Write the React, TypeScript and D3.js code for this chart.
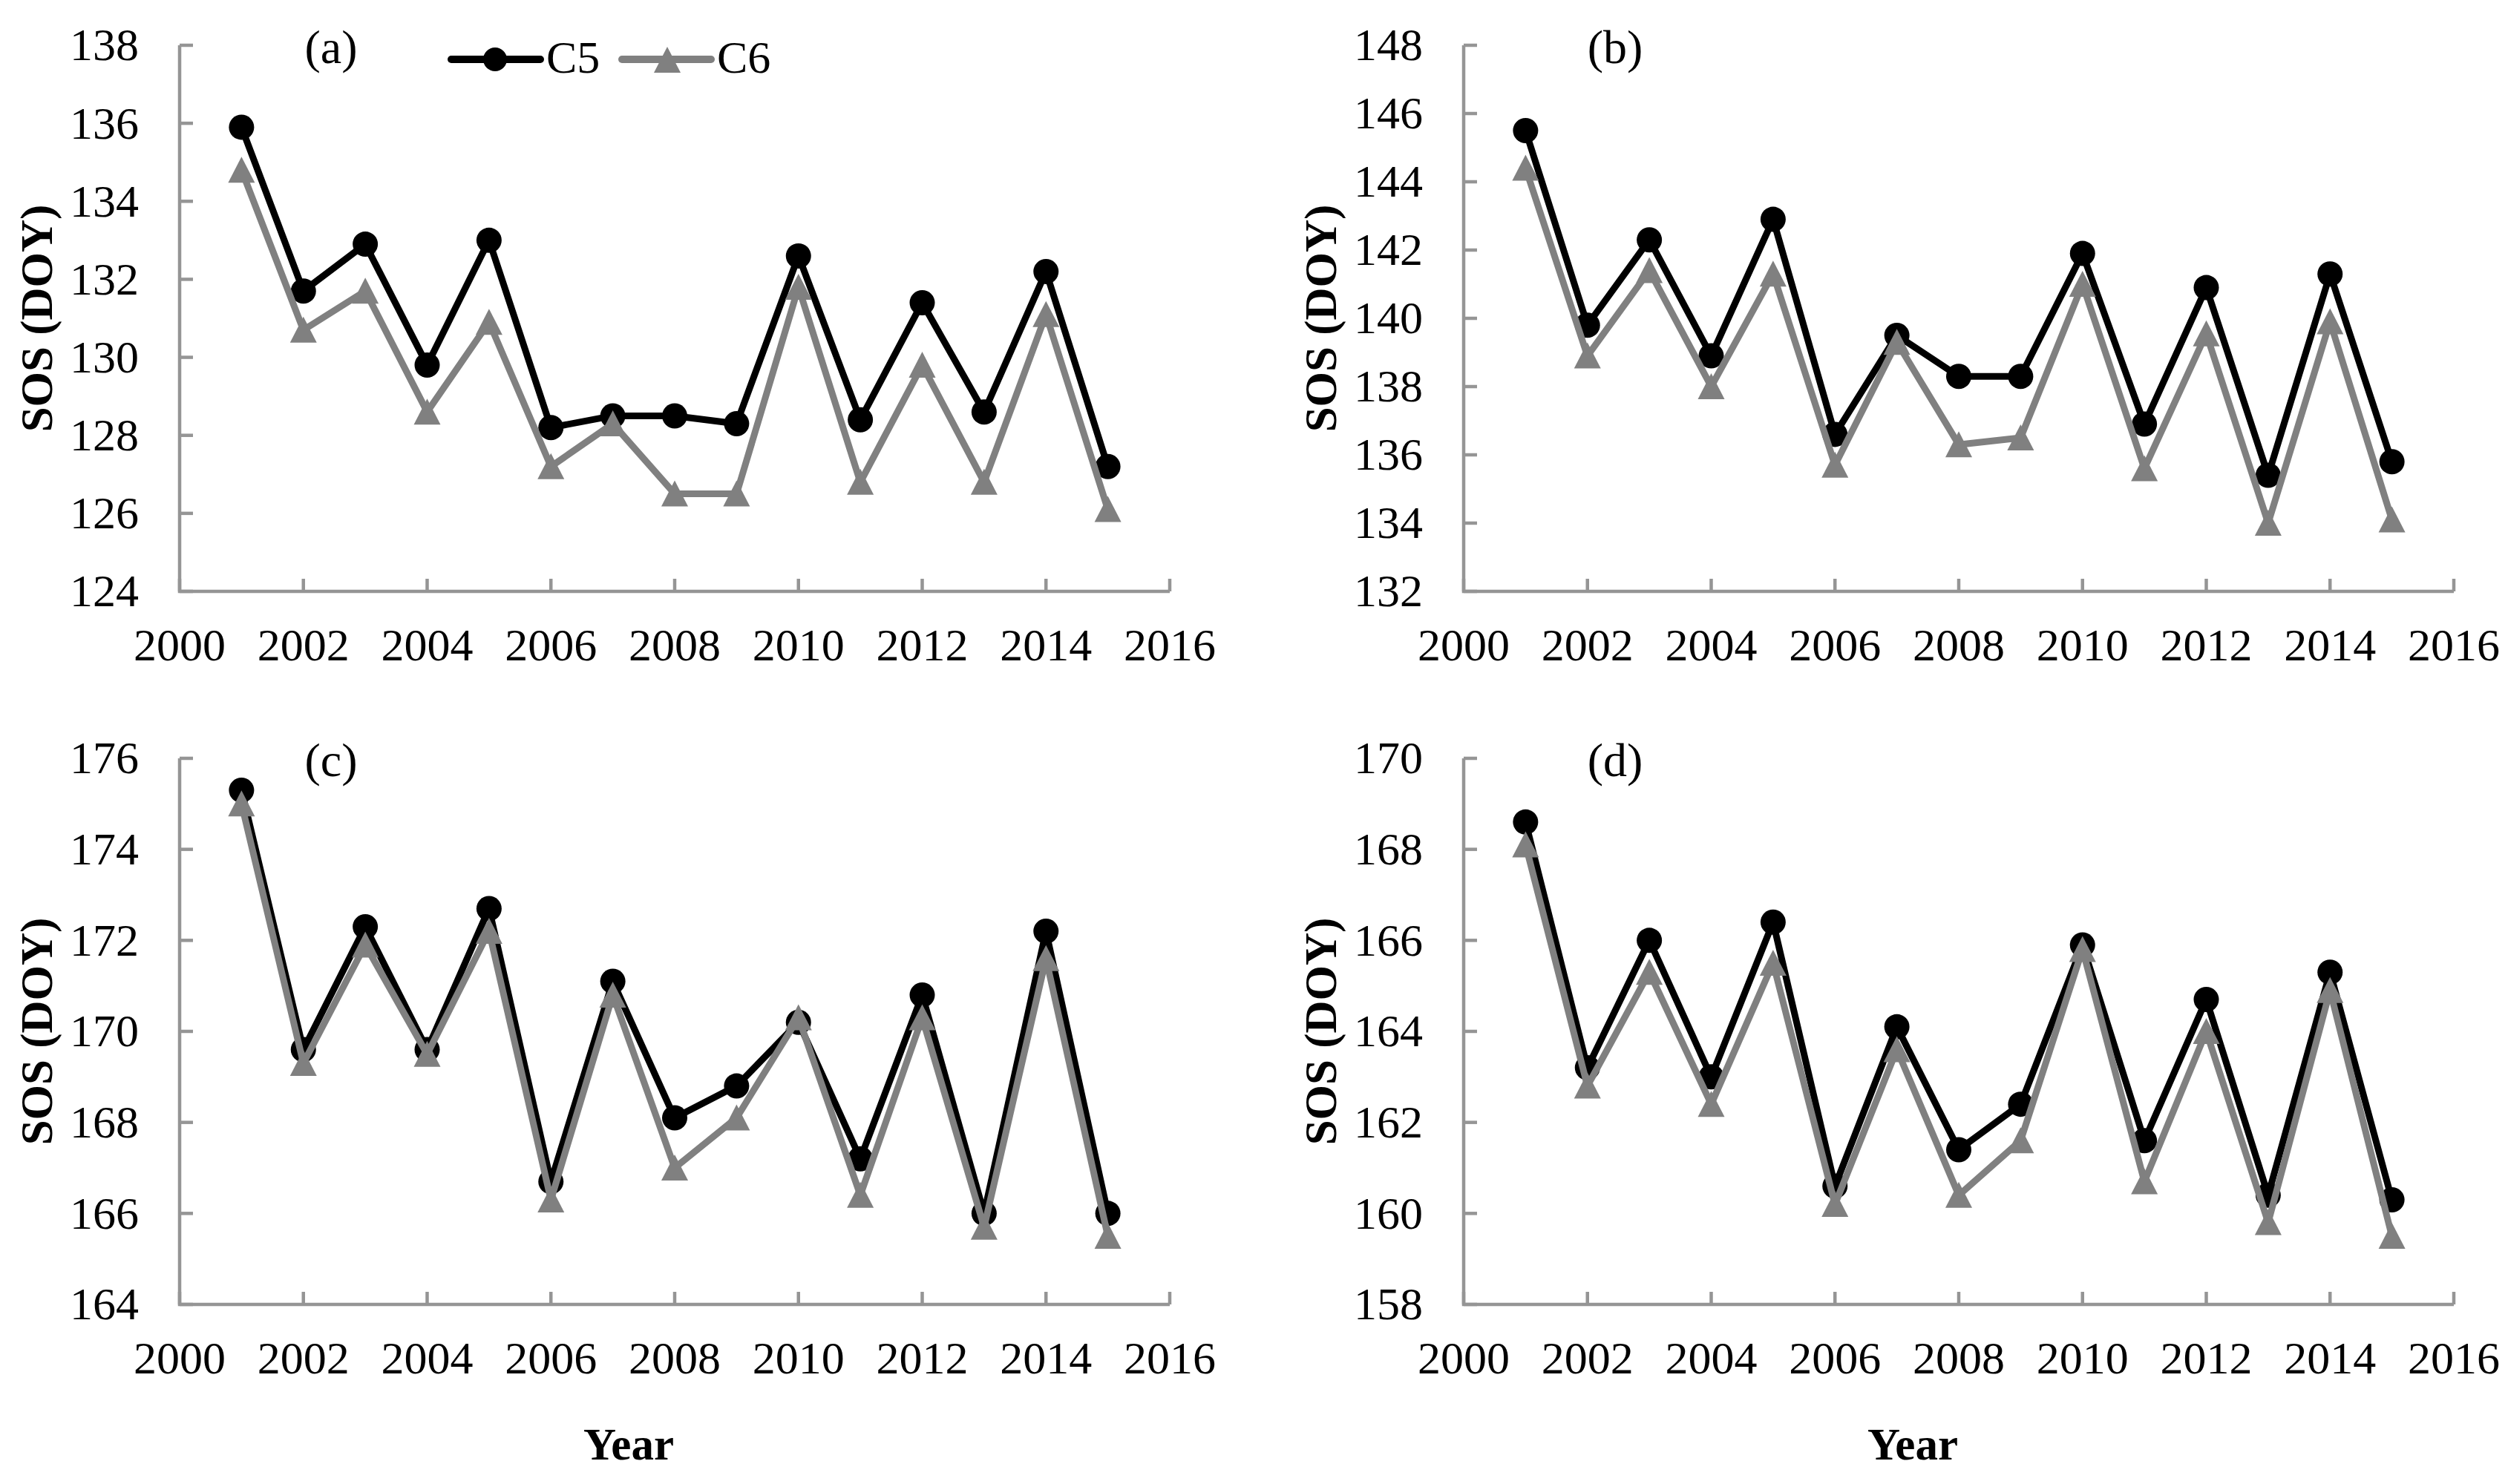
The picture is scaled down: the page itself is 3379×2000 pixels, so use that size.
import { line as d3_line, range, scaleLinear } from "d3";
import type { FC } from "react";

const years = range(2001, 2016);
const xTicks = range(2000, 2017, 2);

const aC5 = [135.9, 131.7, 132.9, 129.8, 133.0, 128.2, 128.5, 128.5, 128.3, 132.6, 128.4, 131.4, 128.6, 132.2, 127.2];
const aC6 = [134.8, 130.7, 131.7, 128.6, 130.9, 127.2, 128.3, 126.5, 126.5, 131.8, 126.8, 129.8, 126.8, 131.1, 126.1];

const bC5 = [145.5, 139.8, 142.3, 138.9, 142.9, 136.6, 139.5, 138.3, 138.3, 141.9, 136.9, 140.9, 135.4, 141.3, 135.8];
const bC6 = [144.4, 138.9, 141.4, 138.0, 141.3, 135.7, 139.3, 136.3, 136.5, 141.0, 135.6, 139.55, 134.0, 139.9, 134.1];

const cC5 = [175.3, 169.6, 172.3, 169.6, 172.7, 166.7, 171.1, 168.1, 168.8, 170.2, 167.2, 170.8, 166.0, 172.2, 166.0];
const cC6 = [175.0, 169.3, 171.9, 169.5, 172.2, 166.3, 170.8, 167.0, 168.1, 170.3, 166.4, 170.3, 165.7, 171.6, 165.5];

const dC5 = [168.6, 163.2, 166.0, 163.0, 166.4, 160.6, 164.1, 161.4, 162.4, 165.9, 161.6, 164.7, 160.4, 165.3, 160.3];
const dC6 = [168.1, 162.8, 165.3, 162.4, 165.5, 160.2, 163.6, 160.4, 161.6, 165.8, 160.7, 164.0, 159.8, 164.9, 159.5];

const W = 3379;
const H = 2000;
const FONT = "'Liberation Serif', 'Times New Roman', serif";
const AXIS = "#959595";
const GREY = "#808080";

const triangle = "M0,-18 L18,17 L-18,17 Z";

interface PanelProps {
  x0: number;
  y0: number;
  yDomain: [number, number];
  c5: number[];
  c6: number[];
  label: string;
  showYear?: boolean;
  showLegend?: boolean;
}

const PW = 1334;
const PH = 736;

const Panel: FC<PanelProps> = ({ x0, y0, yDomain, c5, c6, label, showYear, showLegend }) => {
  const x = scaleLinear().domain([2000, 2016]).range([x0, x0 + PW]);
  const y = scaleLinear().domain(yDomain).range([y0 + PH, y0]);
  const yTicks = range(yDomain[0], yDomain[1] + 1, 2);

  const line = d3_line<number>()
    .x((_, i) => x(years[i]))
    .y((d) => y(d));

  return (
    <g>
      {/* axes */}
      <path
        d={`M${x0},${y0} V${y0 + PH} H${x0 + PW}`}
        fill="none"
        stroke={AXIS}
        strokeWidth={4.5}
      />
      {yTicks.map((t) => (
        <g key={t}>
          <line x1={x0} x2={x0 + 18} y1={y(t)} y2={y(t)} stroke={AXIS} strokeWidth={4.5} />
          <text
            x={x0 - 55}
            y={y(t)}
            dy="0.33em"
            textAnchor="end"
            fontFamily={FONT}
            fontSize={62}
          >
            {t}
          </text>
        </g>
      ))}
      {xTicks.map((t) => (
        <g key={t}>
          <line x1={x(t)} x2={x(t)} y1={y0 + PH} y2={y0 + PH - 17} stroke={AXIS} strokeWidth={4.5} />
          <text x={x(t)} y={y0 + PH + 93} textAnchor="middle" fontFamily={FONT} fontSize={62}>
            {t}
          </text>
        </g>
      ))}

      {/* axis titles */}
      <text
        transform={`translate(${x0 - 172},${y0 + PH / 2}) rotate(-90)`}
        textAnchor="middle"
        fontFamily={FONT}
        fontWeight="bold"
        fontSize={61}
      >
        SOS (DOY)
      </text>
      {showYear ? (
        <text
          x={x0 + PW / 2 - 62}
          y={y0 + PH + 209}
          textAnchor="middle"
          fontFamily={FONT}
          fontWeight="bold"
          fontSize={61}
        >
          Year
        </text>
      ) : null}

      <text x={x0 + 204} y={y0 + 24} textAnchor="middle" fontFamily={FONT} fontSize={64}>
        {label}
      </text>

      {/* C5 */}
      <path d={line(c5)!} fill="none" stroke="#000" strokeWidth={9} strokeLinejoin="round" />
      {c5.map((v, i) => (
        <circle key={i} cx={x(years[i])} cy={y(v)} r={17} fill="#000" />
      ))}

      {/* C6 */}
      <path d={line(c6)!} fill="none" stroke={GREY} strokeWidth={9} strokeLinejoin="round" />
      {c6.map((v, i) => (
        <path key={i} d={triangle} transform={`translate(${x(years[i])},${y(v)})`} fill={GREY} />
      ))}

      {showLegend ? (
        <g>
          <line x1={x0 + 366} x2={x0 + 486} y1={y0 + 19} y2={y0 + 19} stroke="#000" strokeWidth={10} strokeLinecap="round" />
          <circle cx={x0 + 425} cy={y0 + 19} r={16} fill="#000" />
          <text x={x0 + 494} y={y0 + 37} fontFamily={FONT} fontSize={62}>
            C5
          </text>
          <line x1={x0 + 596} x2={x0 + 716} y1={y0 + 19} y2={y0 + 19} stroke={GREY} strokeWidth={10} strokeLinecap="round" />
          <path d={triangle} transform={`translate(${x0 + 657},${y0 + 20})`} fill={GREY} />
          <text x={x0 + 724} y={y0 + 37} fontFamily={FONT} fontSize={62}>
            C6
          </text>
        </g>
      ) : null}
    </g>
  );
};

export default function App() {
  return (
    <svg
      width={W}
      height={H}
      viewBox={`0 0 ${W} ${H}`}
      style={{ position: "absolute", left: 0, top: 0, background: "#fff" }}
    >
      <rect width={W} height={H} fill="#fff" />
      <Panel x0={242} y0={61} yDomain={[124, 138]} c5={aC5} c6={aC6} label="(a)" showLegend />
      <Panel x0={1972} y0={61} yDomain={[132, 148]} c5={bC5} c6={bC6} label="(b)" />
      <Panel x0={242} y0={1022} yDomain={[164, 176]} c5={cC5} c6={cC6} label="(c)" showYear />
      <Panel x0={1972} y0={1022} yDomain={[158, 170]} c5={dC5} c6={dC6} label="(d)" showYear />
    </svg>
  );
}
